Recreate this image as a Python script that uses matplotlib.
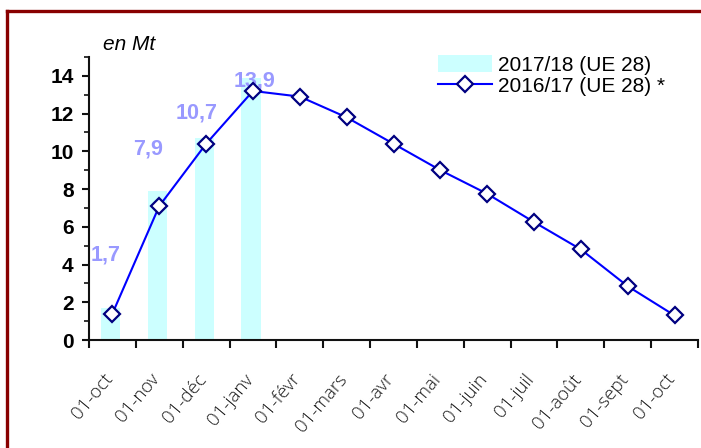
import matplotlib
matplotlib.use("Agg")
import matplotlib.pyplot as plt
from matplotlib.lines import Line2D
from matplotlib.patches import Patch
import numpy as np

# ---- data ----
categories = ["01-oct", "01-nov", "01-déc", "01-janv", "01-févr", "01-mars", "01-avr",
              "01-mai", "01-juin", "01-juil", "01-août", "01-sept", "01-oct"]
bars_2017 = [1.7, 7.9, 10.7, 13.9]
line_2016 = [1.4, 7.1, 10.4, 13.2, 12.9, 11.8, 10.4, 9.0, 7.75, 6.25, 4.8, 2.85, 1.3]
bar_label = "2017/18 (UE 28)"
line_label = "2016/17 (UE 28) *"
y_ticks = [0, 2, 4, 6, 8, 10, 12, 14]

# manual label placements (category offset, y in data units), as in the reference
label_pos_x = [-0.14, 0.76, 1.80, 3.04]
label_pos_y = [4.5, 10.1, 12.05, 13.75]

plt.rcParams['font.family'] = ['Liberation Sans', 'DejaVu Sans']

fig = plt.figure(figsize=(7.01, 4.48), dpi=100)
W, H = 701, 448
ax = fig.add_axes([89 / W, 1 - 340 / H, (698 - 89) / W, (340 - 57) / H])

x = np.arange(len(categories))
xb = np.arange(len(bars_2017))
bar_color = '#CCFFFF'
ax.bar(xb - 0.04, bars_2017, width=0.41, color=bar_color, zorder=1)
ax.plot(x, line_2016, color='#0000FF', lw=1.5, marker='D', markersize=8.5,
        markerfacecolor='white', markeredgecolor='#000080', markeredgewidth=1.6, zorder=3)

for v, lx, ly in zip(bars_2017, label_pos_x, label_pos_y):
    ax.text(lx, ly, f"{v:.1f}".replace('.', ','), color='#9999FF', fontsize=15.5,
            fontweight='bold', ha='center', va='center', zorder=2)

ax.set_xlim(-0.5, len(categories) - 0.5)
ax.set_ylim(0, 15)

for s in ['top', 'right']:
    ax.spines[s].set_visible(False)
for s in ['left', 'bottom']:
    ax.spines[s].set_linewidth(1.5)
    ax.spines[s].set_color('#111111')

ax.set_yticks(y_ticks)
ax.set_yticks(np.arange(0, 16, 1), minor=True)
ax.tick_params(axis='y', which='major', length=5, width=1.5, direction='out', pad=6,
               labelsize=15, color='#111111')
ax.tick_params(axis='y', which='minor', length=3.5, width=1.2, direction='out', color='#111111')
for t in ax.get_yticklabels():
    t.set_fontweight('bold')

ax.set_xticks(np.arange(-0.5, len(categories), 1))
ax.set_xticklabels([])
ax.tick_params(axis='x', which='major', length=6, width=1.5, direction='out', color='#111111')

for xi, lab in zip(x, categories):
    ax.annotate(lab, xy=(xi, 0), xycoords=('data', 'axes fraction'),
                xytext=(-2, -26), textcoords='offset points',
                rotation=50, rotation_mode='anchor', ha='right', va='center',
                fontsize=13.5, color='#1a1a1a', family=['Open Sans', 'DejaVu Sans'],
                fontweight='light', annotation_clip=False)

fig.text(103 / W, 1 - 50 / H, "en Mt", fontsize=15, style='italic', ha='left', va='baseline')

handles = [Patch(facecolor=bar_color, edgecolor='none'),
           Line2D([], [], color='#0000FF', lw=1.5, marker='D', markersize=8.5,
                  markerfacecolor='white', markeredgecolor='#000080', markeredgewidth=1.6)]
fig.legend(handles, [bar_label, line_label], loc='upper left',
           bbox_to_anchor=(438 / W, 1 - 55 / H), frameon=False, fontsize=15,
           handlelength=2.6, handletextpad=0.3, labelspacing=0.1, borderpad=0,
           borderaxespad=0, handleheight=0.85)

# border (dark red, cropped at right and bottom)
border_color = '#880000'
fig.add_artist(Line2D([6.5 / W, 1.02], [1 - 11 / H, 1 - 11 / H], transform=fig.transFigure,
                      color=border_color, lw=2.4))
fig.add_artist(Line2D([6.5 / W, 6.5 / W], [-0.02, 1 - 11 / H], transform=fig.transFigure,
                      color=border_color, lw=2.4, solid_capstyle='projecting'))

fig.savefig("out.png", dpi=100)
